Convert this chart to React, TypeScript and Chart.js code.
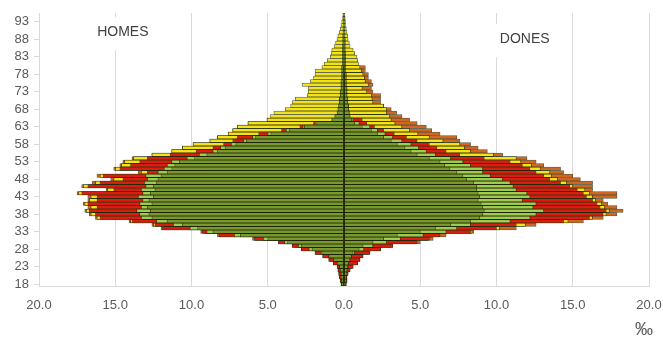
import React, { useEffect, useRef } from 'react';
import { Chart, registerables } from 'chart.js';
Chart.register(...registerables);

// Ages 18..95 (one bar per year of age)
const ages: number[] = Array.from({ length: 78 }, (_, i) => 18 + i);

// Values in per mille (‰). Each series is the extent reached by that colour band.
// HOMES (men)
const menOlive = [
  0.15, 0.15, 0.2, 0.2, 0.25, 0.3, 0.45, 0.7, 1.0, 1.4, // 18-27
  2.1, 2.8, 3.7, 5.0, 6.8, 8.6, 9.6, 10.6, 11.6, 12.6, // 28-37
  12.8, 12.7, 12.9, 12.6, 12.8, 12.5, 12.7, 12.4, 12.5, 12.3, // 38-47
  12.2, 12.0, 11.6, 11.3, 11.1, 10.8, 9.8, 9.0, 8.3, 7.8, // 48-57
  7.1, 6.4, 5.8, 4.8, 3.6, 2.6, 1.8, 0.8, 0.6, 0.45, // 58-67
  0.4, 0.35, 0.3, 0.3, 0.25, 0.25, 0.2, 0.2, 0.2, 0.15, // 68-77
  0.15, 0.15, 0.15, 0.1, 0.1, 0.1, 0.1, 0.1, 0.1, 0.08, // 78-87
  0.08, 0.08, 0.06, 0.06, 0.05, 0.05, 0.05, 0.05, // 88-95
];
const menLight = [
  0.15, 0.15, 0.2, 0.2, 0.25, 0.3, 0.45, 0.7, 1.0, 1.5,
  2.3, 3.0, 3.9, 5.3, 7.2, 9.0, 10.1, 11.2, 12.3, 13.3,
  13.4, 13.6, 13.3, 13.4, 13.2, 13.5, 13.2, 13.3, 13.0, 13.1,
  12.9, 13.0, 12.2, 11.8, 11.6, 11.3, 10.3, 9.5, 8.6, 8.1,
  7.4, 6.6, 6.0, 5.0, 3.8, 2.7, 1.9, 0.8, 0.6, 0.45,
  0.4, 0.35, 0.3, 0.3, 0.25, 0.25, 0.2, 0.2, 0.2, 0.15,
  0.15, 0.15, 0.15, 0.1, 0.1, 0.1, 0.1, 0.1, 0.1, 0.08,
  0.08, 0.08, 0.06, 0.06, 0.05, 0.05, 0.05, 0.05,
];
const menRed = [
  0.2, 0.25, 0.3, 0.35, 0.4, 0.45, 0.7, 1.0, 1.4, 1.9,
  2.8, 3.4, 4.3, 5.9, 8.2, 9.3, 11.9, 12.4, 13.9, 16.0,
  16.3, 16.7, 16.2, 16.8, 16.2, 16.2, 17.2, 15.1, 16.8, 16.0,
  14.5, 15.8, 12.9, 14.7, 14.0, 13.4, 12.9, 11.4, 9.7, 8.6,
  7.9, 7.3, 7.0, 5.6, 4.1, 2.9, 2.0, 0, 0, 0,
  0, 0, 0, 0, 0, 0, 0, 0, 0, 0,
  0, 0, 0, 0, 0, 0, 0, 0, 0, 0,
  0, 0, 0, 0, 0, 0, 0, 0,
];
const menYellow = [
  0.15, 0.2, 0.25, 0.3, 0.35, 0.4, 0.6, 0.9, 1.3, 1.8,
  2.7, 3.3, 4.2, 5.8, 8.1, 9.2, 11.8, 12.5, 14.0, 16.2,
  16.6, 16.9, 16.6, 17.0, 16.7, 16.6, 17.4, 15.5, 17.1, 16.3,
  15.1, 16.0, 13.3, 15.0, 14.6, 14.4, 13.8, 12.6, 11.3, 10.6,
  9.9, 8.8, 8.3, 7.6, 7.3, 7.0, 6.3, 5.05, 4.85, 4.6,
  3.85, 3.5, 3.4, 3.2, 2.4, 2.35, 2.35, 2.75, 2.2, 2.0,
  1.9, 1.9, 1.45, 1.3, 1.1, 0.9, 0.85, 0.8, 0.65, 0.55,
  0.46, 0.4, 0.3, 0.25, 0.2, 0.15, 0.1, 0.08,
];
const menOrange = [
  0.2, 0.25, 0.3, 0.35, 0.4, 0.45, 0.7, 1.0, 1.4, 1.9,
  2.8, 3.4, 4.3, 6.0, 8.3, 9.4, 12.0, 12.6, 14.1, 16.3,
  16.7, 17.0, 16.8, 17.1, 16.8, 16.8, 17.5, 15.6, 17.2, 16.5,
  15.3, 16.2, 13.5, 15.1, 14.7, 14.5, 13.9, 12.6, 11.3, 10.6,
  9.9, 8.8, 8.3, 7.6, 7.3, 7.0, 6.3, 5.05, 0, 0,
  0, 0, 0, 0, 0, 0, 0, 0, 0, 0,
  0, 0, 0, 0, 0, 0, 0, 0, 0, 0,
  0, 0, 0, 0, 0, 0, 0, 0,
];

// DONES (women)
const womenOlive = [
  0.1, 0.15, 0.15, 0.2, 0.2, 0.25, 0.3, 0.4, 0.5, 0.6,
  1.0, 1.25, 1.9, 2.6, 3.5, 5.0, 6.0, 7.0, 8.3, 8.9,
  9.1, 9.2, 9.1, 9.0, 8.8, 8.9, 8.8, 8.7, 8.7, 8.5,
  8.05, 7.8, 7.4, 6.95, 6.6, 6.3, 5.6, 4.8, 4.4, 4.0,
  3.5, 3.1, 2.6, 2.2, 1.8, 1.2, 0.7, 0.5, 0.4, 0.35,
  0.3, 0.3, 0.25, 0.25, 0.2, 0.2, 0.2, 0.15, 0.15, 0.15,
  0.15, 0.1, 0.1, 0.1, 0.1, 0.1, 0.1, 0.08, 0.08, 0.08,
  0.08, 0.06, 0.06, 0.06, 0.05, 0.05, 0.05, 0.05,
];
const womenLight = [
  0.1, 0.15, 0.15, 0.2, 0.2, 0.25, 0.3, 0.4, 0.5, 0.7,
  1.3, 1.9, 2.8, 3.7, 5.2, 6.7, 7.4, 8.3, 10.9, 12.2,
  12.6, 13.1, 12.4, 12.6, 11.7, 12.2, 12.0, 11.3, 11.1, 10.9,
  10.4, 9.6, 9.1, 9.1, 8.3, 7.8, 7.0, 6.0, 5.4, 4.9,
  4.4, 3.8, 3.2, 2.7, 2.2, 1.7, 1.0, 0.6, 0.4, 0.35,
  0.3, 0.3, 0.25, 0.25, 0.2, 0.2, 0.2, 0.15, 0.15, 0.15,
  0.15, 0.1, 0.1, 0.1, 0.1, 0.1, 0.1, 0.08, 0.08, 0.08,
  0.08, 0.06, 0.06, 0.06, 0.05, 0.05, 0.05, 0.05,
];
const womenRed = [
  0.15, 0.2, 0.2, 0.27, 0.4, 0.6, 0.9, 1.05, 1.25, 1.7,
  2.4, 3.2, 4.8, 5.6, 6.3, 8.3, 10.0, 11.3, 14.4, 16.1,
  17.0, 17.2, 16.8, 16.6, 16.3, 15.9, 15.7, 15.3, 14.8, 14.2,
  13.5, 13.1, 12.6, 12.2, 11.7, 10.9, 9.2, 7.6, 6.7, 6.1,
  5.6, 4.8, 4.1, 3.3, 2.6, 2.0, 1.5, 1.2, 0, 0,
  0, 0, 0, 0, 0, 0, 0, 0, 0, 0,
  0, 0, 0, 0, 0, 0, 0, 0, 0, 0,
  0, 0, 0, 0, 0, 0, 0, 0,
];
const womenYellow = [
  0.1, 0.15, 0.15, 0.2, 0.3, 0.5, 0.8, 1.0, 1.2, 1.6,
  2.3, 3.1, 4.7, 5.5, 6.2, 8.4, 10.2, 11.9, 14.7, 16.3,
  17.2, 17.4, 17.1, 16.9, 16.5, 16.3, 16.1, 15.8, 15.0, 14.6,
  14.0, 13.6, 13.5, 12.9, 12.3, 11.6, 11.3, 9.8, 8.3, 7.9,
  7.6, 6.5, 5.6, 4.85, 4.3, 3.8, 3.35, 3.1, 3.0, 2.8,
  2.8, 2.6, 1.9, 1.85, 1.8, 1.5, 1.2, 1.6, 1.4, 1.35,
  1.25, 1.15, 1.05, 0.95, 0.9, 0.85, 0.7, 0.6, 0.4, 0.35,
  0.27, 0.25, 0.2, 0.15, 0.12, 0.1, 0.08, 0.05,
];
const womenOrange = [
  0.15, 0.2, 0.2, 0.27, 0.4, 0.6, 0.9, 1.05, 1.25, 1.7,
  2.4, 3.2, 5.0, 5.85, 6.7, 8.5, 11.3, 12.6, 15.7, 17.0,
  17.9, 18.3, 17.9, 17.3, 17.0, 17.9, 17.9, 16.3, 16.3, 16.3,
  15.5, 15.0, 14.4, 14.2, 13.1, 12.6, 12.0, 10.4, 9.4, 8.8,
  8.3, 7.6, 7.4, 6.3, 5.75, 5.4, 4.8, 4.3, 3.8, 3.45,
  3.1, 2.6, 2.4, 2.4, 2.4, 1.9, 1.8, 1.9, 1.8, 1.6,
  1.6, 1.4, 1.4, 0, 0, 0, 0, 0, 0, 0,
  0, 0, 0, 0, 0, 0, 0, 0,
];

const xTicks = [-20, -15, -10, -5, 0, 5, 10, 15, 20];

const OLIVE = '#799830';
const LIGHT = '#9ccc52';
const RED = '#dc1c13';
const YELLOW = '#f3e316';
const ORANGE = '#d0661f';
const BORDER = 'rgba(30,38,0,0.75)';
const TICK = '#595959';
const GRID = '#d9d9d9';
const FONT = 'Liberation Sans';

export default function App() {
  const ref = useRef<HTMLCanvasElement>(null);

  useEffect(() => {
    if (!ref.current) return;
    const labels = ages.map(String);
    const mk = (label: string, data: number[], color: string, order: number, sign: number) => ({
      label,
      data: data.map((v) => sign * v),
      backgroundColor: color,
      borderColor: BORDER,
      borderWidth: 0.8,
      borderSkipped: false,
      order,
      grouped: false,
      barPercentage: 1,
      categoryPercentage: 1,
    });

    const textPlugin = {
      id: 'sideLabels',
      beforeDatasetsDraw(chart: any) {
        const { ctx, scales } = chart;
        const x = scales.x;
        const y = scales.y;
        const put = (text: string, xv: number, age: number, hw: number) => {
          const px = x.getPixelForValue(xv);
          const py = y.getPixelForValue(ages.indexOf(age));
          ctx.save();
          ctx.fillStyle = '#ffffff';
          ctx.fillRect(px - hw, py - 15, hw * 2, 33);
          ctx.fillStyle = '#404040';
          ctx.font = `14px "${FONT}"`;
          ctx.textAlign = 'center';
          ctx.textBaseline = 'middle';
          ctx.fillText(text, px, py);
          ctx.restore();
        };
        put('HOMES', -14.5, 90, 34);
        put('DONES', 11.85, 88, 32);
      },
      afterDraw(chart: any) {
        const { ctx, scales } = chart;
        const x = scales.x;
        ctx.save();
        ctx.fillStyle = TICK;
        ctx.font = `18px "${FONT}"`;
        ctx.textAlign = 'center';
        ctx.textBaseline = 'middle';
        ctx.fillText('‰', x.getPixelForValue(20) - 5, chart.height - 10);
        ctx.restore();
      },
    };

    const chart = new Chart(ref.current, {
      type: 'bar',
      data: {
        labels,
        datasets: [
          mk('Homes 1', menOlive, OLIVE, 0, -1),
          mk('Homes 2', menLight, LIGHT, 1, -1),
          mk('Homes 3', menRed, RED, 2, -1),
          mk('Homes 4', menYellow, YELLOW, 3, -1),
          mk('Homes 5', menOrange, ORANGE, 4, -1),
          mk('Dones 1', womenOlive, OLIVE, 0, 1),
          mk('Dones 2', womenLight, LIGHT, 1, 1),
          mk('Dones 3', womenRed, RED, 2, 1),
          mk('Dones 4', womenYellow, YELLOW, 3, 1),
          mk('Dones 5', womenOrange, ORANGE, 4, 1),
        ] as any,
      },
      options: {
        animation: false,
        responsive: false,
        devicePixelRatio: 1,
        indexAxis: 'y',
        layout: { autoPadding: false, padding: { top: 13, right: 14, left: 0, bottom: 0 } },
        plugins: { legend: { display: false }, tooltip: { enabled: false } },
        scales: {
          x: {
            type: 'linear',
            min: xTicks[0],
            max: xTicks[xTicks.length - 1],
            afterBuildTicks: (s: any) => {
              s.ticks = xTicks.map((v) => ({ value: v }));
            },
            ticks: {
              callback: (v: any) => Math.abs(Number(v)).toFixed(1),
              color: TICK,
              font: { family: FONT, size: 13 },
              padding: 0,
              maxRotation: 0,
              autoSkip: false,
            },
            grid: { color: GRID, drawTicks: true, tickLength: 12, tickColor: 'rgba(0,0,0,0)', lineWidth: 1 },
            border: { color: GRID },
            afterFit: (s: any) => {
              s.height = 54;
            },
          },
          y: {
            type: 'category',
            reverse: true,
            offset: true,
            ticks: {
              autoSkip: false,
              callback: (_v: any, i: number) => ((ages[i] - 18) % 5 === 0 ? String(ages[i]) : ''),
              color: TICK,
              font: { family: FONT, size: 13 },
              padding: 5,
            },
            grid: {
              drawOnChartArea: false,
              offset: false,
              tickLength: 5,
              color: (c: any) => (c.index % 5 === 0 ? GRID : 'rgba(0,0,0,0)'),
            },
            border: { color: GRID },
            afterFit: (s: any) => {
              s.width = 39;
            },
          },
        },
      } as any,
      plugins: [textPlugin],
    });
    return () => chart.destroy();
  }, []);

  return (
    <div style={{ position: 'absolute', left: 0, top: 0, width: 663, height: 340, background: '#ffffff' }}>
      <canvas ref={ref} width={663} height={340} style={{ display: 'block' }} />
    </div>
  );
}
